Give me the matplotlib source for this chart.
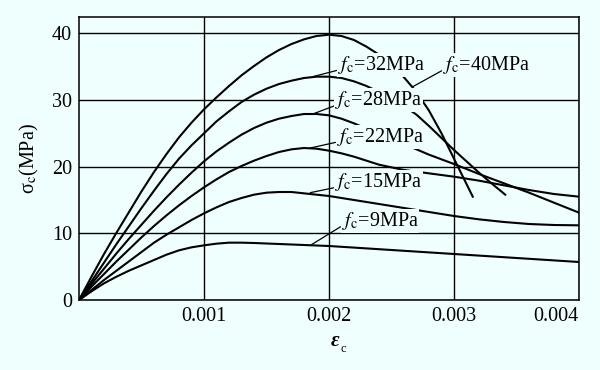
import numpy as np
import matplotlib
matplotlib.use("Agg")
import matplotlib.pyplot as plt

plt.rcParams['font.family'] = ['Liberation Serif', 'DejaVu Serif']
plt.rcParams['mathtext.fontset'] = 'stix'

#### DATA (strain in 1e-3, stress in MPa) ####
fc40_eps = [0, 0.1, 0.2, 0.3, 0.4, 0.5, 0.6, 0.7, 0.8, 0.9, 1.0, 1.1, 1.2, 1.3, 1.4, 1.5, 1.6, 1.7, 1.8, 1.9,
            2.0, 2.1, 2.2, 2.3, 2.4, 2.5, 2.6, 2.7, 2.8, 2.9, 3.0, 3.1, 3.15]
fc40_sig = [0, 3.5, 6.9, 10.1, 13.2, 16.3, 19.2, 21.9, 24.4, 26.6, 28.6, 30.4, 32.1, 33.7, 35.1, 36.4, 37.5, 38.4, 39.1, 39.6,
            39.8, 39.6, 39.0, 38.0, 36.8, 35.3, 33.4, 31.2, 28.4, 25.0, 21.2, 17.4, 15.5]

fc32_eps = [0, 0.1, 0.2, 0.3, 0.4, 0.5, 0.6, 0.7, 0.8, 0.9, 1.0, 1.1, 1.2, 1.3, 1.4, 1.5, 1.6, 1.7, 1.8, 1.9,
            2.0, 2.1, 2.2, 2.3, 2.4, 2.5, 2.6, 2.7, 2.8, 2.9, 3.0, 3.1, 3.2, 3.3, 3.41]
fc32_sig = [0, 2.8, 5.6, 8.4, 11.1, 13.8, 16.4, 18.9, 21.2, 23.2, 25.0, 26.8, 28.3, 29.7, 30.8, 31.7, 32.4, 32.9, 33.3, 33.5,
            33.5, 33.3, 32.8, 32.1, 31.2, 30.2, 29.1, 27.8, 26.1, 24.3, 22.5, 20.8, 19.1, 17.5, 15.8]

fc28_eps = [0, 0.1, 0.2, 0.3, 0.4, 0.5, 0.6, 0.7, 0.8, 0.9, 1.0, 1.1, 1.2, 1.3, 1.4, 1.5, 1.6, 1.7, 1.8, 1.9,
            2.0, 2.1, 2.2, 2.3, 2.4, 2.5, 2.6, 2.7, 2.8, 2.9, 3.0, 3.2, 3.4, 3.6, 3.8, 4.0]
fc28_sig = [0, 2.4, 4.7, 7.0, 9.2, 11.3, 13.4, 15.4, 17.3, 19.1, 20.8, 22.3, 23.6, 24.8, 25.8, 26.6, 27.2, 27.6, 27.9, 27.9,
            27.7, 27.2, 26.5, 25.7, 24.9, 24.1, 23.4, 22.6, 21.8, 21.1, 20.4, 18.9, 17.5, 16.1, 14.6, 13.1]

fc22_eps = [0, 0.1, 0.2, 0.3, 0.4, 0.5, 0.6, 0.7, 0.8, 0.9, 1.0, 1.1, 1.2, 1.3, 1.4, 1.5, 1.6, 1.7, 1.8, 1.9,
            2.0, 2.1, 2.2, 2.3, 2.4, 2.6, 2.8, 3.0, 3.2, 3.4, 3.6, 3.8, 4.0]
fc22_sig = [0, 2.0, 3.9, 5.8, 7.6, 9.4, 11.1, 12.7, 14.2, 15.6, 16.9, 18.1, 19.2, 20.1, 20.9, 21.6, 22.2, 22.6, 22.8, 22.7,
            22.4, 22.0, 21.5, 20.9, 20.3, 19.5, 19.0, 18.5, 17.9, 17.2, 16.5, 15.9, 15.5]

fc15_eps = [0, 0.1, 0.2, 0.3, 0.4, 0.5, 0.6, 0.7, 0.8, 0.9, 1.0, 1.1, 1.2, 1.3, 1.4, 1.5, 1.6, 1.7, 1.8, 1.9,
            2.0, 2.2, 2.4, 2.6, 2.8, 3.0, 3.2, 3.4, 3.6, 3.8, 4.0]
fc15_sig = [0, 1.5, 3.0, 4.4, 5.8, 7.2, 8.6, 9.8, 10.9, 12.0, 13.0, 13.9, 14.7, 15.3, 15.8, 16.1, 16.2, 16.2, 16.0, 15.8,
            15.6, 15.0, 14.4, 13.8, 13.2, 12.6, 12.1, 11.7, 11.4, 11.25, 11.2]

fc9_eps = [0, 0.1, 0.2, 0.3, 0.4, 0.5, 0.6, 0.7, 0.8, 0.9, 1.0, 1.1, 1.2, 1.3, 1.4, 1.6, 1.8, 2.0, 2.5, 3.0, 3.5, 4.0]
fc9_sig = [0, 1.3, 2.5, 3.5, 4.4, 5.2, 6.0, 6.8, 7.45, 7.9, 8.2, 8.45, 8.6, 8.6, 8.55, 8.4, 8.25, 8.1, 7.5, 6.9, 6.3, 5.7]

labels = ['40', '32', '28', '22', '15', '9']
# where each leader line touches its curve (strain 1e-3, MPa) and where the label sits
leader_pts = [(2.67, 32.0), (1.87, 33.5), (1.87, 27.9), (1.85, 22.8), (1.85, 16.1), (1.86, 8.3)]
text_pts = [(2.91, 35.3), (2.07, 35.3), (2.05, 30.0), (2.06, 24.5), (2.05, 17.7), (2.10, 11.9)]

x_ticks = [0.001, 0.002, 0.003, 0.004]
x_ticklabels = ['0.001', '0.002', '0.003', '0.004']
y_ticks = [0, 10, 20, 30, 40]

BG = '#effffe'

fig = plt.figure(figsize=(6, 3.7), dpi=100, facecolor=BG)
ax = fig.add_axes([0.1317, 0.1892, 0.8333, 0.7657])
ax.set_facecolor(BG)

curves = [(fc40_eps, fc40_sig), (fc32_eps, fc32_sig), (fc28_eps, fc28_sig),
          (fc22_eps, fc22_sig), (fc15_eps, fc15_sig), (fc9_eps, fc9_sig)]
for e, s in curves:
    ax.plot(np.array(e) * 1e-3, s, color='black', lw=1.5, solid_joinstyle='round', zorder=2)

for lab, (lx, ly), (tx, ty) in zip(labels, leader_pts, text_pts):
    ax.annotate(r'$f_{\rm c}$=' + lab + 'MPa', xy=(lx * 1e-3, ly), xytext=(tx * 1e-3, ty),
                fontsize=14.5, ha='left', va='center', zorder=4,
                bbox=dict(boxstyle='square,pad=0.05', fc=BG, ec='none'),
                arrowprops=dict(arrowstyle='-', color='black', lw=0.9,
                                shrinkA=0, shrinkB=0, relpos=(0.0, 0.25)))

ax.set_xlim(0, 0.004)
ax.set_ylim(0, 42.5)
ax.set_xticks(x_ticks)
ax.set_xticklabels(x_ticklabels)
ax.set_yticks(y_ticks)
ax.tick_params(length=0, labelsize=14.5, pad=5)
ax.get_xticklabels()[-1].set_horizontalalignment('right')
ax.get_xticklabels()[-1].set_x(0.00403)
ax.grid(True, color='black', lw=1.0)
ax.set_axisbelow(True)
for sp in ax.spines.values():
    sp.set_linewidth(1.1)

ax.set_ylabel(r'σ$_{\rm c}$(MPa)', fontsize=14.5, labelpad=8)
fig.text(0.558, 0.078, 'ε', fontsize=15, fontweight='bold', fontstyle='italic', ha='center', va='center')
fig.text(0.568, 0.058, 'c', fontsize=9, ha='left', va='center')

fig.savefig('out.png', dpi=100, facecolor=BG)
